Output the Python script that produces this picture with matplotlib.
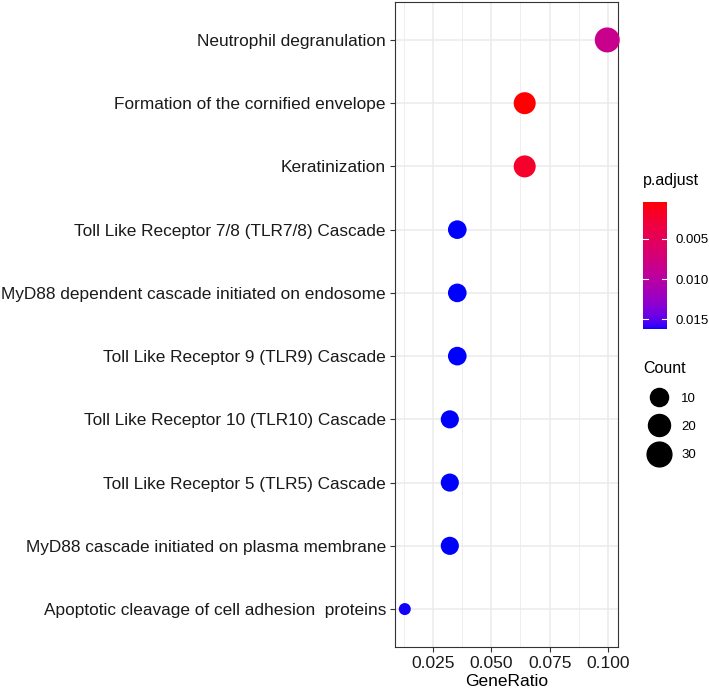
import numpy as np
import matplotlib.pyplot as plt
from matplotlib.colors import ListedColormap, Normalize
from matplotlib.lines import Line2D
from matplotlib.cm import ScalarMappable

plt.rcParams['font.family'] = ['Liberation Sans', 'DejaVu Sans']

# data (top to bottom as in the chart)
pathways = [
    "Neutrophil degranulation",
    "Formation of the cornified envelope",
    "Keratinization",
    "Toll Like Receptor 7/8 (TLR7/8) Cascade",
    "MyD88 dependent cascade initiated on endosome",
    "Toll Like Receptor 9 (TLR9) Cascade",
    "Toll Like Receptor 10 (TLR10) Cascade",
    "Toll Like Receptor 5 (TLR5) Cascade",
    "MyD88 cascade initiated on plasma membrane",
    "Apoptotic cleavage of cell adhesion  proteins",
]
gene_ratio = [0.0997, 0.0643, 0.0643, 0.0354, 0.0354, 0.0354, 0.0322, 0.0322, 0.0322, 0.0129]
counts = [31, 20, 20, 11, 11, 11, 10, 10, 10, 4]
p_adjust = [0.0085, 0.0004, 0.0021, 0.0162, 0.0162, 0.0162, 0.0162, 0.0162, 0.0162, 0.0161]

size_breaks = [10, 20, 30]
cbar_ticks = [0.005, 0.010, 0.015]
x_ticks = [0.025, 0.050, 0.075, 0.100]


# red -> blue gradient interpolated in Lab space (like ggplot)
def srgb_to_lab(rgb):
    rgb = np.asarray(rgb, float)
    lin = np.where(rgb <= 0.04045, rgb / 12.92, ((rgb + 0.055) / 1.055) ** 2.4)
    M = np.array([[0.4124, 0.3576, 0.1805],
                  [0.2126, 0.7152, 0.0722],
                  [0.0193, 0.1192, 0.9505]])
    xyz = M @ lin / np.array([0.95047, 1.0, 1.08883])
    f = np.where(xyz > 0.008856, np.cbrt(xyz), 7.787 * xyz + 16 / 116)
    return np.array([116 * f[1] - 16, 500 * (f[0] - f[1]), 200 * (f[1] - f[2])])


def lab_to_srgb(lab):
    L, a, b = lab
    fy = (L + 16) / 116
    fx = fy + a / 500
    fz = fy - b / 200
    f = np.array([fx, fy, fz])
    xyz = np.where(f ** 3 > 0.008856, f ** 3, (f - 16 / 116) / 7.787)
    xyz = xyz * np.array([0.95047, 1.0, 1.08883])
    Minv = np.array([[3.2406, -1.5372, -0.4986],
                     [-0.9689, 1.8758, 0.0415],
                     [0.0557, -0.2040, 1.0570]])
    lin = np.clip(Minv @ xyz, 0, 1)
    rgb = np.where(lin <= 0.0031308, 12.92 * lin, 1.055 * lin ** (1 / 2.4) - 0.055)
    return np.clip(rgb, 0, 1)


lab_red = srgb_to_lab([1, 0, 0])
lab_blue = srgb_to_lab([0, 0, 1])
cols = [lab_to_srgb(lab_red + (lab_blue - lab_red) * t) for t in np.linspace(0, 1, 256)]
cmap = ListedColormap(cols)
norm = Normalize(vmin=min(p_adjust), vmax=max(p_adjust))


# size scale: diameter (px) linear in sqrt of rescaled count
cmin, cmax = min(counts), max(counts)
def diam_pt(c):
    d = 12 + 13 * np.sqrt((c - cmin) / (cmax - cmin))
    return d * 0.72


fig = plt.figure(figsize=(7.09, 6.89), dpi=100)
ax = fig.add_axes([395 / 709, 1 - 647 / 689, 223 / 709, 645 / 689])

n = len(pathways)
ypos = np.arange(n)[::-1]
sizes = [diam_pt(c) ** 2 for c in counts]
ax.scatter(gene_ratio, ypos, s=sizes, c=p_adjust, cmap=cmap, norm=norm,
           linewidths=0, zorder=3, clip_on=False)

ax.set_xlim(0.0087, 0.1043)
ax.set_ylim(-0.6, n - 0.4)
ax.set_yticks(ypos)
ax.set_yticklabels(pathways, fontsize=12.4, color='#1a1a1a')
ax.set_xticks(x_ticks)
ax.set_xticklabels([f"{v:.3f}" for v in x_ticks], fontsize=12.5, color='#1a1a1a')
ax.set_xticks([0.0125, 0.0375, 0.0625, 0.0875], minor=True)
ax.set_xlabel("GeneRatio", fontsize=12.5, labelpad=2)

ax.grid(True, which='major', color='#EBEBEB', linewidth=1.1, zorder=0)
ax.grid(True, which='minor', axis='x', color='#EBEBEB', linewidth=0.6, zorder=0)
ax.set_axisbelow(True)
ax.tick_params(axis='both', which='major', length=3.5, width=0.8, color='#333333', pad=3)
ax.tick_params(axis='x', which='minor', length=0)
for sp in ax.spines.values():
    sp.set_color('#333333')
    sp.set_linewidth(0.8)

# colour legend
fig.text(643 / 709, 1 - 180 / 689, "p.adjust", fontsize=11.5, va='center', ha='left')
cax = fig.add_axes([643 / 709, 1 - 329 / 689, 24 / 709, 127 / 689])
cb = fig.colorbar(ScalarMappable(norm=norm, cmap=cmap), cax=cax)
cb.outline.set_visible(False)
cax.invert_yaxis()
cb.set_ticks(cbar_ticks)
cb.set_ticklabels([f"{v:.3f}" for v in cbar_ticks])
cax.tick_params(length=0, labelsize=9.5, pad=6)
for v in cbar_ticks:
    cax.axhline(v, xmin=0, xmax=0.2, color='white', linewidth=0.8)
    cax.axhline(v, xmin=0.8, xmax=1, color='white', linewidth=0.8)

# size legend
handles = [Line2D([], [], marker='o', linestyle='none', color='black',
                  markersize=diam_pt(c)) for c in size_breaks]
leg = fig.legend(handles, [str(c) for c in size_breaks], title="Count",
                 loc='upper left', bbox_to_anchor=(637.5 / 709, 1 - 356 / 689),
                 frameon=False, fontsize=9.5, title_fontsize=11.5,
                 labelspacing=1.22, handlelength=2.5, handletextpad=0.4,
                 borderaxespad=0)
leg._legend_box.align = 'left'

fig.savefig("out.png", dpi=100)
